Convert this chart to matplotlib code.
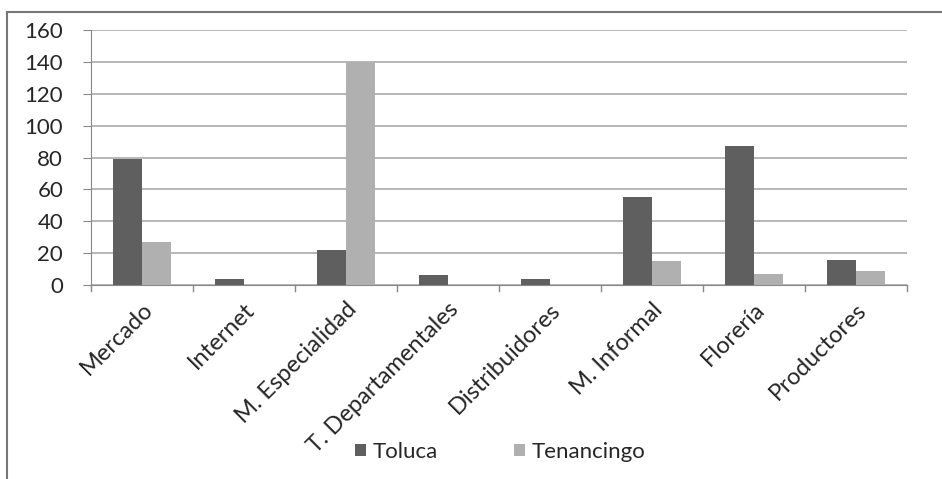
import matplotlib.pyplot as plt
import numpy as np
from matplotlib.lines import Line2D

categories = ["Mercado", "Internet", "M. Especialidad", "T. Departamentales",
              "Distribuidores", "M. Informal", "Florería", "Productores"]
toluca = [79, 4, 22, 6, 4, 55, 87, 16]
tenancingo = [27, 0, 140, 0, 0, 15, 7, 9]
y_ticks = [0, 20, 40, 60, 80, 100, 120, 140, 160]

plt.rcParams['font.family'] = ['Lato', 'DejaVu Sans']
plt.rcParams['text.color'] = '#262626'

fig = plt.figure(figsize=(9.42, 4.79), dpi=100)
ax = fig.add_axes([91 / 942, 1 - 285 / 479, (907 - 91) / 942, (285 - 30) / 479])

x = np.arange(len(categories))
w = 0.28
ax.bar(x - w / 2, toluca, w, color="#5f5f5f", label="Toluca", zorder=3)
ax.bar(x + w / 2, tenancingo, w, color="#b0b0b0", label="Tenancingo", zorder=3)

ax.set_xlim(-0.5, len(categories) - 0.5)
ax.set_ylim(0, 160)
ax.set_yticks(y_ticks)
ax.tick_params(axis="y", labelsize=16, length=6, color="#888888", pad=14, labelcolor="#262626")
ax.yaxis.grid(True, color="#aaaaaa", linewidth=1.2, zorder=0)

ax.set_xticks(x)
ax.set_xticklabels(categories, rotation=45, ha="right", rotation_mode="anchor", fontsize=17,
                   color="#262626")
ax.tick_params(axis="x", length=0, pad=10)
for b in np.arange(len(categories) + 1) - 0.5:
    ax.plot([b, b], [0, -0.025], transform=ax.get_xaxis_transform(), color="#888888",
            linewidth=1, clip_on=False)

for s in ["top", "right"]:
    ax.spines[s].set_visible(False)
ax.spines["left"].set_color("#888888")
ax.spines["bottom"].set_color("#888888")

ax.legend(loc="center", bbox_to_anchor=(500 / 942, 1 - 452 / 479), bbox_transform=fig.transFigure,
          ncol=2, frameon=False, fontsize=16, handlelength=0.5, handleheight=0.5,
          handletextpad=0.3, columnspacing=3.4)

# outer border
fig.add_artist(Line2D([7 / 942, 1], [1 - 12 / 479] * 2, color="#777777", linewidth=1.5))
fig.add_artist(Line2D([7 / 942] * 2, [0, 1 - 12 / 479], color="#777777", linewidth=1.5))

fig.savefig("out.png", dpi=100)
